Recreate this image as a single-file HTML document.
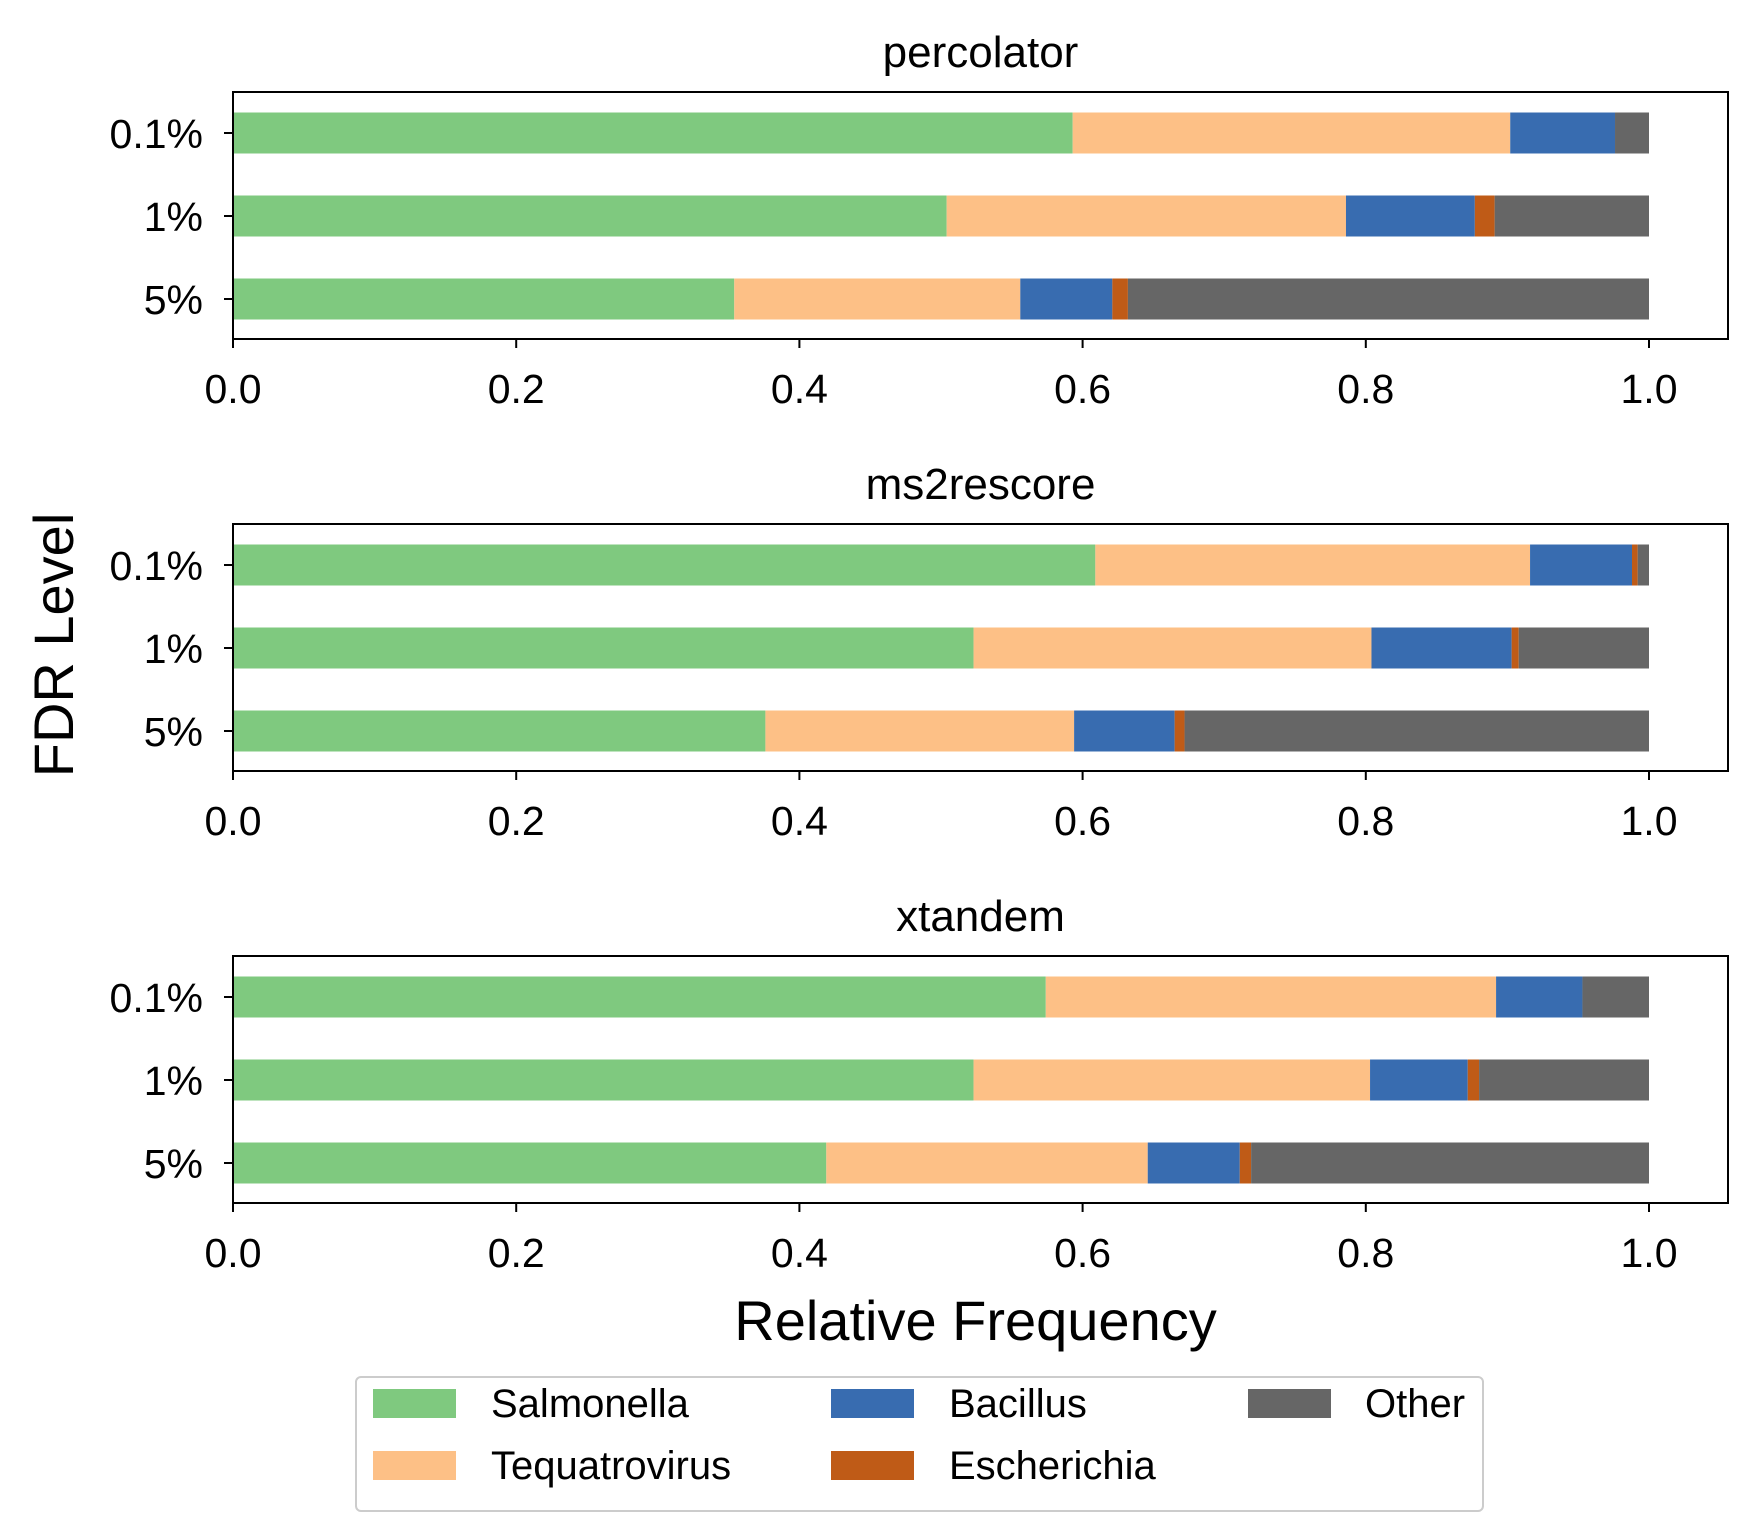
<!DOCTYPE html>
<html><head><meta charset="utf-8">
<style>
html,body{margin:0;padding:0;background:#fff;}
svg{display:block;font-family:"Liberation Sans",sans-serif;}
</style></head>
<body>
<svg id="chart" width="1749" height="1536" viewBox="0 0 1749 1536" xmlns="http://www.w3.org/2000/svg"></svg>
<script>
const panelTitles = ["percolator", "ms2rescore", "xtandem"];
const categories = ["0.1%", "1%", "5%"];
const seriesNames = ["Salmonella", "Tequatrovirus", "Bacillus", "Escherichia", "Other"];
const seriesColors = ["#7fc97f", "#fdc086", "#386cb0", "#bf5b17", "#666666"];
// segment widths per panel, per category, per series
const percolatorValues = [
  [0.593, 0.309, 0.074, 0.000, 0.024],
  [0.504, 0.282, 0.091, 0.014, 0.109],
  [0.354, 0.202, 0.065, 0.011, 0.368]
];
const ms2rescoreValues = [
  [0.609, 0.307, 0.072, 0.004, 0.008],
  [0.523, 0.281, 0.099, 0.005, 0.092],
  [0.376, 0.218, 0.071, 0.007, 0.328]
];
const xtandemValues = [
  [0.574, 0.318, 0.061, 0.000, 0.047],
  [0.523, 0.280, 0.069, 0.008, 0.120],
  [0.419, 0.227, 0.065, 0.008, 0.281]
];
const xTicks = [0, 0.2, 0.4, 0.6, 0.8, 1.0];
const xTickLabels = ["0.0", "0.2", "0.4", "0.6", "0.8", "1.0"];

const svg = document.getElementById('chart');
const NS = "http://www.w3.org/2000/svg";
function mk(tag, attrs, parent) {
  const e = document.createElementNS(NS, tag);
  for (const k in attrs) e.setAttribute(k, attrs[k]);
  (parent || svg).appendChild(e);
  return e;
}
const axL = 233, axR = 1728, x0 = 233, x1 = 1649;
const panelTops = [92, 524, 956];
const axH = 247;
const xScale = v => x0 + (x1 - x0) * v;
const yCenter = (top, i) => top + 41 + 83 * i;
const barH = 41;
const allValues = [percolatorValues, ms2rescoreValues, xtandemValues];

panelTops.forEach((top, p) => {
  const g = mk('g', {});
  
  
  const t = mk('text', {x: (axL + axR) / 2, y: top - 25, 'text-anchor': 'middle', 'font-size': 44, fill: '#000'}, g);
  t.textContent = panelTitles[p];
  
  
  categories.forEach((c, i) => {
    let acc = 0;
    const cy = yCenter(top, i);
    allValues[p][i].forEach((v, s) => {
      const r = mk('rect', {x: xScale(acc), y: cy - barH / 2, width: Math.max(0, xScale(acc + v) - xScale(acc)), height: barH, fill: seriesColors[s]}, g);
      
      
      acc += v;
    });
    mk('line', {x1: axL - 9, x2: axL, y1: cy, y2: cy, stroke: '#000', 'stroke-width': 2}, g);
    const lbl = mk('text', {x: axL - 30, y: cy + 15, 'text-anchor': 'end', 'font-size': 41, fill: '#000'}, g);
    lbl.textContent = c;
    
    
  });
  xTicks.forEach((v, k) => {
    const x = xScale(v);
    mk('line', {x1: x, x2: x, y1: top + axH, y2: top + axH + 9, stroke: '#000', 'stroke-width': 2}, g);
    const lbl = mk('text', {x: x, y: top + axH + 64, 'text-anchor': 'middle', 'font-size': 41, fill: '#000'}, g);
    lbl.textContent = xTickLabels[k];
    
    
  });
  const frame = mk('rect', {x: axL, y: top, width: axR - axL, height: axH, fill: 'none', stroke: '#000', 'stroke-width': 2}, g);
  
  
});

const xl = mk('text', {x: (axL + axR) / 2 - 5, y: 1340, 'text-anchor': 'middle', 'font-size': 56, fill: '#000'});
xl.textContent = 'Relative Frequency';


const yl = mk('text', {x: 0, y: 0, transform: 'translate(73,645) rotate(-90)', 'text-anchor': 'middle', 'font-size': 56, fill: '#000'});
yl.textContent = 'FDR Level';



const lg = mk('g', {});


mk('rect', {x: 356, y: 1377, width: 1127, height: 134, rx: 5, fill: '#fff', stroke: '#ccc', 'stroke-width': 2}, lg);
const pos = [[373,491,1403],[373,491,1465],[831,949,1403],[831,949,1465],[1248,1365,1403]];
seriesNames.forEach((n, s) => {
  const [hx, tx, y] = pos[s];
  const e = mk('g', {}, lg);
  
  
  mk('rect', {x: hx, y: y - 14, width: 83, height: 29, fill: seriesColors[s]}, e);
  const t = mk('text', {x: tx, y: y + 14, 'font-size': 40, fill: '#000'}, e);
  t.textContent = n;
});
</script>
</body></html>
